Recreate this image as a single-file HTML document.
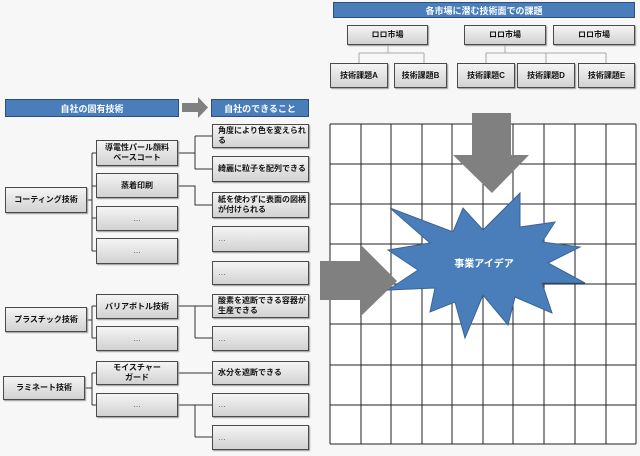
<!DOCTYPE html>
<html><head><meta charset="utf-8"><style>
body{margin:0;width:640px;height:456px;background:#f7f7f7;position:relative;overflow:hidden;font-family:"Liberation Sans","Noto Sans CJK JP",sans-serif}
.b{position:absolute;box-sizing:border-box;border:1.5px solid #4a4a4a;background:linear-gradient(#f4f4f4,#d2d2d2);box-shadow:1px 1px 1px #999;font-size:8px;color:#111;display:flex;align-items:center;justify-content:center;text-align:center;line-height:10px;font-weight:bold}
.l{justify-content:flex-start;text-align:left;padding-left:5px}
.h{position:absolute;box-sizing:border-box;background:#4a7ebb;border:1px solid #2d4f7a;color:#fff;font-size:9px;font-weight:bold;display:flex;align-items:center;justify-content:center}
svg{position:absolute;left:0;top:0}
.d{font-weight:normal;color:#555}
</style></head><body>
<svg width="640" height="456">
<g stroke="#333" stroke-width="1" fill="none">
<path d="M87 200H92M92 153V251M92 153H96M92 186H96M92 218H96M92 251H96"/>
<path d="M178 153H195M195 136V169M195 136H212M195 169H212M178 186H195V205H212"/>
<path d="M87 320H92M92 306V338M92 306H96M92 338H96M178 306H195M195 306V338M195 306H212M195 338H212"/>
<path d="M85 388H92M92 373V405M92 373H96M92 405H96M178 373H212M178 405H195M195 405V437M195 405H212M195 437H212"/>
</g>
<g stroke="#aaa" stroke-width="1" fill="none">
<path d="M388 45V53M359 53H424M359 53V63M424 53V63"/>
<path d="M505 45V53M486 53H606M486 53V63M546 53V63M606 53V63"/>
</g>
<rect x="330" y="124" width="306" height="320" fill="#fff"/>
<g stroke="#222" stroke-width="1">
<path d="M330 124V444M361 124V444M391 124V444M422 124V444M452 124V444M483 124V444M513 124V444M544 124V444M575 124V444M606 124V444M636 124V444"/>
<path d="M330 124H636M330 164H636M330 204H636M330 244H636M330 284H636M330 324H636M330 365H636M330 405H636M330 444H636"/>
</g>
<polygon points="472,113 511,113 511,155 529,155 492,193 453,155 472,155" fill="#808080"/>
<polygon points="320,261 360,261 360,244 397,281 360,317 360,300 320,300" fill="#808080"/>
<polygon points="182,103 198,103 198,97 208,107.5 198,118 198,112 182,112" fill="#808080"/>
<polygon points="390,208 430,243 388,250 418,270 388,290 435,288 430,312 455,302 465,338 483,295 508,325 515,297 552,313 542,283 585,283 548,263 580,247 542,242 555,222 520,227 520,193 483,230 463,208 453,232" fill="#4a7ebb" stroke="#3a6496" stroke-width="1"/>
<text x="484" y="267" fill="#fff" font-size="10" font-weight="bold" text-anchor="middle" font-family="Liberation Sans,Noto Sans CJK JP,sans-serif">事業アイデア</text>
</svg>
<div class="h" style="left:5px;top:99px;width:174px;height:18px">自社の固有技術</div>
<div class="h" style="left:211px;top:99px;width:98px;height:18px">自社のできること</div>
<div class="h" style="left:333px;top:2px;width:302px;height:16px">各市場に潜む技術面での課題</div>

<div class="b" style="left:347px;top:25px;width:81px;height:20px">ロロ市場</div>
<div class="b" style="left:464px;top:25px;width:82px;height:20px">ロロ市場</div>
<div class="b" style="left:553px;top:25px;width:82px;height:20px">ロロ市場</div>
<div class="b" style="left:330px;top:63px;width:58px;height:25px">技術課題A</div>
<div class="b" style="left:394px;top:63px;width:53px;height:25px">技術課題B</div>
<div class="b" style="left:457px;top:63px;width:58px;height:25px">技術課題C</div>
<div class="b" style="left:517px;top:63px;width:58px;height:25px">技術課題D</div>
<div class="b" style="left:578px;top:63px;width:57px;height:25px">技術課題E</div>

<div class="b" style="left:5px;top:187px;width:82px;height:26px">コーティング技術</div>
<div class="b" style="left:96px;top:140px;width:82px;height:26px">導電性パール顔料<br>ベースコート</div>
<div class="b" style="left:96px;top:173px;width:82px;height:25px">蒸着印刷</div>
<div class="b d" style="left:96px;top:206px;width:82px;height:25px">…</div>
<div class="b d" style="left:96px;top:238px;width:82px;height:26px">…</div>
<div class="b l" style="left:212px;top:124px;width:97px;height:24px">角度により色を変えられる</div>
<div class="b l" style="left:212px;top:156px;width:97px;height:26px">綺麗に粒子を配列できる</div>
<div class="b l" style="left:212px;top:192px;width:97px;height:26px">紙を使わずに表面の図柄が付けられる</div>
<div class="b l d" style="left:212px;top:226px;width:97px;height:26px">…</div>
<div class="b l d" style="left:212px;top:261px;width:97px;height:24px">…</div>

<div class="b" style="left:5px;top:307px;width:82px;height:25px">プラスチック技術</div>
<div class="b" style="left:96px;top:294px;width:82px;height:25px">バリアボトル技術</div>
<div class="b d" style="left:96px;top:326px;width:82px;height:25px">…</div>
<div class="b l" style="left:212px;top:294px;width:97px;height:24px">酸素を遮断できる容器が生産できる</div>
<div class="b l d" style="left:212px;top:326px;width:97px;height:25px">…</div>

<div class="b" style="left:3px;top:376px;width:82px;height:24px">ラミネート技術</div>
<div class="b" style="left:96px;top:361px;width:82px;height:24px">モイスチャー<br>ガード</div>
<div class="b d" style="left:96px;top:393px;width:82px;height:24px">…</div>
<div class="b l" style="left:212px;top:361px;width:97px;height:24px">水分を遮断できる</div>
<div class="b l d" style="left:212px;top:393px;width:97px;height:24px">…</div>
<div class="b l d" style="left:212px;top:425px;width:97px;height:25px">…</div>
</body></html>
